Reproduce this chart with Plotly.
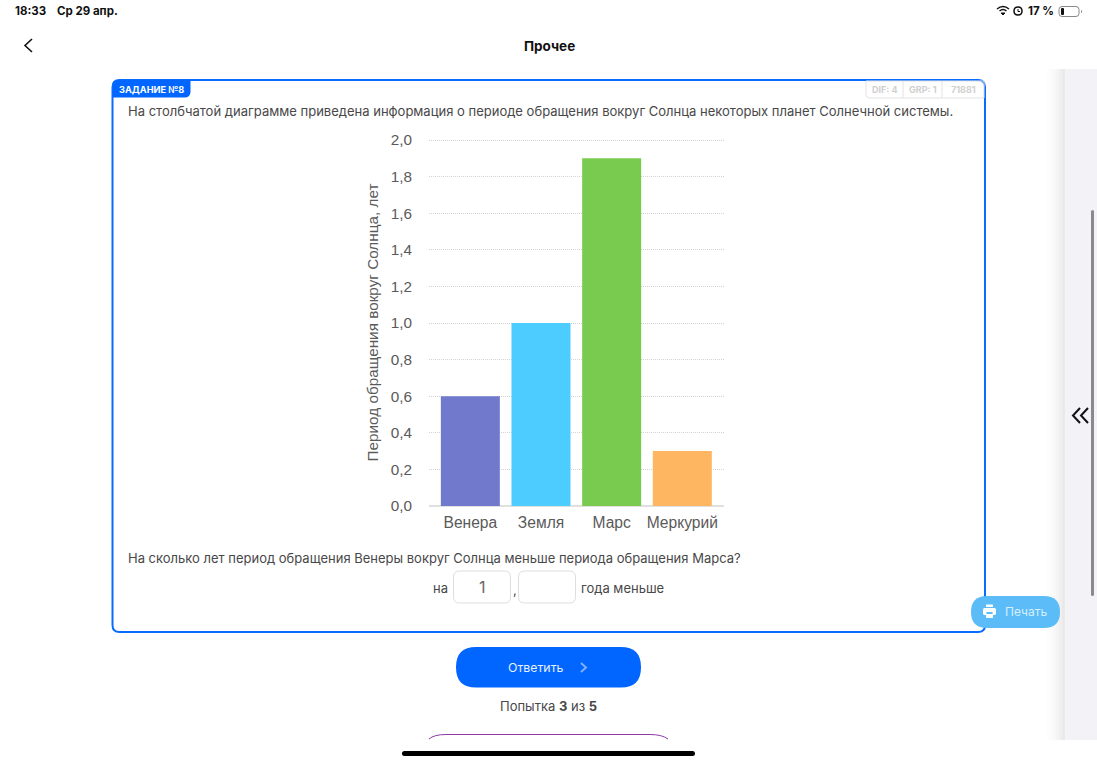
import plotly.graph_objects as go

# Chart data
planets = ["Венера", "Земля", "Марс", "Меркурий"]
periods = [0.6, 1.0, 1.9, 0.3]
bar_colors = ["#7079cb", "#4dccff", "#79cb50", "#ffb661"]
y_ticks = [0, 0.2, 0.4, 0.6, 0.8, 1.0, 1.2, 1.4, 1.6, 1.8, 2.0]
axis_title = "Период обращения вокруг Солнца, лет"

# Page geometry; the value axis runs a hair past 2,0 so its top gridline is kept
W, H = 1097, 763
LEFT, RIGHT, TOP, BOTTOM = 429, 724, 139, 506
Y_MAX = 2.0055
UI_FONT = "Inter, Roboto, sans-serif"
CHART_FONT = "Liberation Sans, Arial, sans-serif"


def px(x):
    return (x - LEFT) / (RIGHT - LEFT)


def py(y):
    return (BOTTOM - y) / (BOTTOM - TOP)


def path_of(points):
    cmds = []
    for p in points:
        if isinstance(p, str):
            cmds.append(p)
        else:
            cmds.append(f"{px(p[0]):.5f},{py(p[1]):.5f}")
    return " ".join(cmds)


shapes = []
notes = []


def rrect(x0, y0, x1, y1, r, fill=None, line=None, lw=1, corners=(1, 1, 1, 1)):
    tl, tr, br, bl = [r * c for c in corners]
    d = path_of([
        "M", (x0 + tl, y0), "L", (x1 - tr, y0), "Q", (x1, y0), (x1, y0 + tr),
        "L", (x1, y1 - br), "Q", (x1, y1), (x1 - br, y1),
        "L", (x0 + bl, y1), "Q", (x0, y1), (x0, y1 - bl),
        "L", (x0, y0 + tl), "Q", (x0, y0), (x0 + tl, y0), "Z",
    ])
    shapes.append(dict(type="path", xref="paper", yref="paper", path=d, layer="below",
                       fillcolor=fill or "rgba(0,0,0,0)",
                       line=dict(color=line or "rgba(0,0,0,0)", width=lw if line else 0)))


def stroke(points, color, lw=1.5, fill=None):
    shapes.append(dict(type="path", xref="paper", yref="paper", path=path_of(points), layer="below",
                       fillcolor=fill or "rgba(0,0,0,0)", line=dict(color=color, width=lw)))


def text(x, y, s, size=13, color="#484848", anchor="left", family=UI_FONT):
    shift = {"left": -1, "right": 1, "center": 0}[anchor]
    notes.append(dict(xref="paper", yref="paper", x=px(x + shift), y=py(y), text=s, showarrow=False,
                      xanchor=anchor, yanchor="middle", borderpad=0,
                      font=dict(family=family, size=size, color=color)))


# Status bar
text(15, 11, "<b>18:33</b>", 11.5, "#111111")
text(57, 11, "<b>Ср 29 апр.</b>", 11.5, "#111111")
text(1054, 11, "<b>17 %</b>", 11.5, "#111111", "right")
stroke(["M", (997, 9), "Q", (1003, 4), (1009, 9)], "#111111", 1.5)
stroke(["M", (999.5, 11), "Q", (1003, 8), (1006.5, 11)], "#111111", 1.5)
stroke(["M", (1001, 13), "L", (1003, 15), "L", (1005, 13), "Z"], "#111111", 1, "#111111")
stroke(["M", (1014, 11), "Q", (1014, 7), (1018, 7), "Q", (1022, 7), (1022, 11),
        "Q", (1022, 15), (1018, 15), "Q", (1014, 15), (1014, 11), "Z"], "#111111", 1.5)
stroke(["M", (1018, 9), "L", (1018, 11.5), "L", (1020, 11.5)], "#111111", 1)
rrect(1059, 6.5, 1079, 16.5, 3, None, "#888888", 1)
rrect(1061, 8, 1064, 15, 1, "#111111")
rrect(1081, 10, 1082, 13, 0.5, "#999999")

# Header
stroke(["M", (32, 39), "L", (25, 45.5), "L", (32, 52)], "#111111", 1.6)
text(549, 46, "<b>Прочее</b>", 13.5, "#111111", "center")

# Right side panel with a soft shadow along its edge
for i, shade in enumerate(["#fdfdfe", "#fbfbfc", "#f8f8f9", "#f4f4f5", "#efeff0", "#e9e9ea"]):
    shapes.append(dict(type="rect", xref="paper", yref="paper", x0=px(1047 + 3 * i), x1=px(1050 + 3 * i),
                       y0=py(740), y1=py(69), fillcolor=shade, line=dict(width=0), layer="below"))
shapes.append(dict(type="rect", xref="paper", yref="paper", x0=px(1065), x1=px(1097),
                   y0=py(740), y1=py(69), fillcolor="#f2f2f7", line=dict(width=0), layer="below"))
rrect(1091, 210, 1094, 596, 1.5, "#8a8a8e")
stroke(["M", (1080, 408), "L", (1073, 415.5), "L", (1080, 423)], "#111111", 2)
stroke(["M", (1088, 408), "L", (1081, 415.5), "L", (1088, 423)], "#111111", 2)

# Task card
rrect(112.5, 80, 985, 632, 7, "#ffffff", "#0a6cff", 2)
rrect(113, 80, 190.5, 97.5, 6, "#0066ff", corners=(1, 0, 1, 0))
text(119, 89, "<b>ЗАДАНИЕ №8</b>", 9.2, "#ffffff")
rrect(866, 81, 984, 98, 4, None, "#e2e2e2", 1, corners=(0, 0, 0, 1))
stroke(["M", (903, 81), "L", (903, 98)], "#e2e2e2", 1)
stroke(["M", (942, 81), "L", (942, 98)], "#e2e2e2", 1)
text(885, 89.5, "<b>DIF: 4</b>", 9, "#cfcfcf", "center")
text(923, 89.5, "<b>GRP: 1</b>", 9, "#cfcfcf", "center")
text(963, 89.5, "<b>71881</b>", 9, "#cfcfcf", "center")
text(128, 111, "На столбчатой диаграмме приведена информация о периоде обращения вокруг Солнца некоторых планет Солнечной системы.", 13.02)

# Question and answer fields
text(128, 558, "На сколько лет период обращения Венеры вокруг Солнца меньше периода обращения Марса?", 13)
text(433, 588, "на", 13)
rrect(453.5, 571, 510.5, 603, 6, "#ffffff", "#dedede", 1)
text(482, 587, "1", 16, "#666666", "center")
text(513, 589.5, ",", 13)
rrect(518.5, 571, 575.5, 603, 6, "#ffffff", "#dedede", 1)
text(581, 588, "года меньше", 13)

# Print button with its printer icon
rrect(971, 596, 1060, 628, 16, "#5bbcf8")
rrect(983, 608, 996, 615, 1.5, "#ffffff")
rrect(986, 604.5, 993, 607, 0.5, "#ffffff")
rrect(986.5, 612, 992.5, 614, 0, "#5bbcf8")
rrect(986, 614.5, 993, 618, 0.5, "#ffffff")
text(1005, 611.5, "Печать", 12, "#d6effe")

# Submit button and the attempt counter
rrect(456, 647, 641, 687.5, 20, "#0066ff")
text(536, 667.5, "Ответить", 12.3, "#e6f0ff", "center")
stroke(["M", (581, 663), "L", (586, 667.5), "L", (581, 672)], "#7fb0ff", 2)
text(548.5, 706, "Попытка <b>3</b> из <b>5</b>", 13, "#484848", "center")

# Next button, cut off by the bottom of the page
stroke(["M", (429, 739), "Q", (434, 734.5), (446, 734.5), "L", (650, 734.5),
        "Q", (662, 734.5), (668, 739)], "#8e3aa5", 1)

# Home indicator
rrect(402, 751, 695, 756, 2.5, "#000000")

fig = go.Figure(go.Bar(x=list(range(len(planets))), y=periods, marker=dict(color=bar_colors, line=dict(width=0)),
                       width=0.835))

fig.update_layout(
    width=W, height=H, autosize=False,
    margin=dict(l=LEFT, r=W - RIGHT, t=TOP, b=H - BOTTOM, pad=0),
    paper_bgcolor="#ffffff", plot_bgcolor="rgba(0,0,0,0)",
    separators=", ",
    showlegend=False,
    shapes=shapes, annotations=notes,
    font=dict(family=CHART_FONT, size=15, color="#5a5a5a"),
    xaxis=dict(
        range=[-0.585, 3.59], tickmode="array", tickvals=list(range(len(planets))), ticktext=planets,
        showgrid=False, zeroline=False, showline=False, ticks="outside", ticklen=2, tickcolor="rgba(0,0,0,0)",
        tickfont=dict(family=CHART_FONT, size=15.6, color="#5a5a5a"),
    ),
    yaxis=dict(
        range=[0, Y_MAX], tickmode="array", tickvals=y_ticks, tickformat=".1f",
        showgrid=True, gridcolor="#d2d2d2", gridwidth=1, griddash="1px,1px",
        zeroline=True, zerolinecolor="#e0e0e0", zerolinewidth=2,
        showline=False, ticks="outside", ticklen=13, tickcolor="rgba(0,0,0,0)",
        tickfont=dict(family=CHART_FONT, size=15.3, color="#5a5a5a"),
        title=dict(text=axis_title, standoff=8, font=dict(family=CHART_FONT, size=15.3, color="#5a5a5a")),
    ),
)

fig.write_html("out.html", config=dict(displayModeBar=False))
